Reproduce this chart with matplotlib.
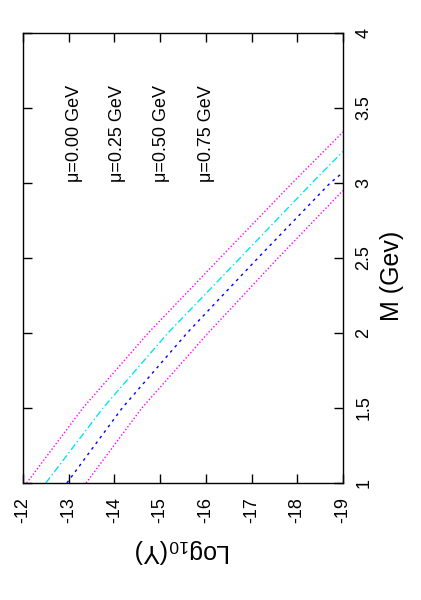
import matplotlib
matplotlib.use('Agg')
import matplotlib.pyplot as plt

plt.rcParams['font.family'] = ['Liberation Sans', 'DejaVu Sans']
plt.rcParams['mathtext.default'] = 'regular'

# values (M in GeV, log10(Y))
m_a = [1.0, 1.5, 2.0, 2.5, 3.0, 3.34]
y_a = [-12.08, -13.31, -14.74, -16.31, -17.89, -19.0]
m_b = [1.0, 1.5, 2.0, 2.5, 3.0, 3.21]
y_b = [-12.50, -13.75, -15.17, -16.75, -18.32, -19.0]
m_c = [1.0, 1.5, 2.0, 2.5, 3.0, 3.07]
y_c = [-12.96, -14.17, -15.59, -17.14, -18.72, -19.0]
m_d = [1.0, 1.5, 2.0, 2.5, 2.95]
y_d = [-13.38, -14.60, -16.05, -17.58, -19.0]

labels = ['\u03bc=0.00 GeV', '\u03bc=0.25 GeV', '\u03bc=0.50 GeV', '\u03bc=0.75 GeV']
label_pos = [-13.12, -14.06, -15.04, -16.02]

xticks = [-12, -13, -14, -15, -16, -17, -18, -19]
yticks = [1, 1.5, 2, 2.5, 3, 3.5, 4]

fig = plt.figure(figsize=(4.21, 6), dpi=100)
ax = fig.add_axes([0.0546, 0.195, 0.760, 0.75])

# plot is drawn sideways: log10(Y) runs horizontally, M vertically
ax.plot(y_a, m_a, color='#ff00ff', ls=(0, (1, 1.5)), lw=1.0)
ax.plot(y_b, m_b, color='#00e5ee', ls=(0, (5, 2, 1, 2)), lw=1.0)
ax.plot(y_c, m_c, color='#0000ff', ls=(0, (2, 3)), lw=1.0)
ax.plot(y_d, m_d, color='#ff00ff', ls=(0, (1, 1.5)), lw=1.0)

for s, xp in zip(labels, label_pos):
    ax.text(xp, 3.01, s, rotation=90, ha='center', va='bottom', fontsize=13)

ax.set_xlim(-12, -19)
ax.set_ylim(1, 4)
ax.set_xticks(xticks)
ax.set_xticklabels([str(t) for t in xticks], rotation=90, fontsize=13)
ax.set_yticks(yticks)
ax.set_yticklabels(['1', '1.5', '2', '2.5', '3', '3.5', '4'], rotation=90,
                   va='center', fontsize=13)
ax.yaxis.tick_right()
ax.tick_params(direction='in', length=6.5, width=1.0, top=True, bottom=True,
               left=True, right=True)
ax.tick_params(axis='x', pad=10)
ax.tick_params(axis='y', pad=9)

ax.set_xlabel('Log$_{10}$(Y)', rotation=180, fontsize=18, labelpad=10)
ax.yaxis.set_label_position('right')
ax.set_ylabel('M (Gev)', rotation=90, fontsize=18, labelpad=6)
ax.yaxis.set_label_coords(1.115, 0.46)

for sp in ax.spines.values():
    sp.set_linewidth(1.0)

fig.savefig('out.png', dpi=100)
